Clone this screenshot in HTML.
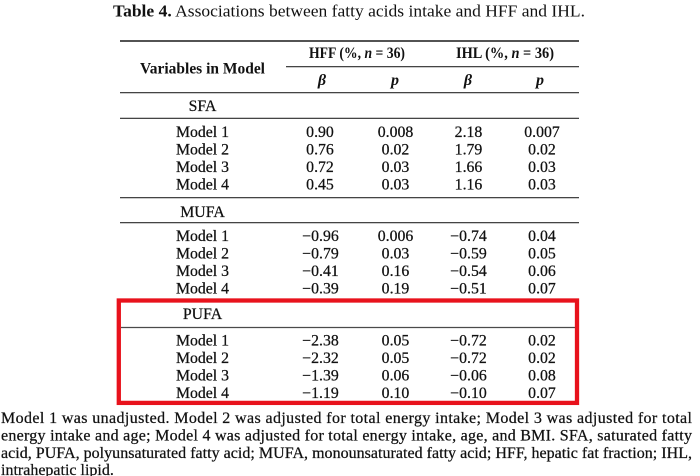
<!DOCTYPE html>
<html>
<head>
<meta charset="utf-8">
<style>
  html, body { margin:0; padding:0; background:#fff; }
  body { width:700px; height:476px; overflow:hidden; }
  svg { display:block; }
  text { font-family: "Liberation Serif", "DejaVu Serif", serif; fill:#111; }
  .th { stroke:#111; stroke-width:0.25px; }
</style>
</head>
<body>
<svg width="700" height="476" viewBox="0 0 700 476" xmlns="http://www.w3.org/2000/svg">
  <!-- Title -->
  <text x="113" y="16.5" font-size="17" textLength="472" lengthAdjust="spacingAndGlyphs"><tspan font-weight="bold">Table 4.</tspan> Associations between fatty acids intake and HFF and IHL.</text>

  <!-- Rules -->
  <g stroke="#2a2a2a" stroke-width="1.2">
    <line x1="120" y1="41" x2="579" y2="41" stroke-width="1.5" stroke="#1a1a1a"/>
    <line x1="286" y1="66.7" x2="579" y2="66.7"/>
    <line x1="120" y1="92.7" x2="579" y2="92.7"/>
    <line x1="120" y1="118.3" x2="579" y2="118.3"/>
    <line x1="120" y1="197.7" x2="579" y2="197.7"/>
    <line x1="120" y1="222.7" x2="579" y2="222.7"/>
    <line x1="120" y1="300" x2="579" y2="300"/>
    <line x1="121" y1="327.5" x2="575" y2="327.5" stroke="#4a4a4a"/>
    <line x1="120" y1="402" x2="579" y2="402"/>
  </g>

  <!-- Header -->
  <g font-weight="bold" font-size="15.5">
    <text x="140" y="73.5" textLength="125" lengthAdjust="spacingAndGlyphs">Variables in Model</text>
    <text x="309" y="58" textLength="96" lengthAdjust="spacingAndGlyphs">HFF (%, <tspan font-style="italic">n</tspan> = 36)</text>
    <text x="456" y="58" textLength="98" lengthAdjust="spacingAndGlyphs">IHL (%, <tspan font-style="italic">n</tspan> = 36)</text>
    <g font-style="italic" text-anchor="middle" font-size="16">
      <text x="322" y="85">β</text>
      <text x="395" y="85">p</text>
      <text x="468" y="85">β</text>
      <text x="540" y="85">p</text>
    </g>
  </g>

  <!-- Body -->
  <g font-size="15.8" text-anchor="middle" class="th">
    <text x="202.5" y="111">SFA</text>
    <text x="202.5" y="137">Model 1</text><text x="320" y="137">0.90</text><text x="395.5" y="137">0.008</text><text x="468.5" y="137">2.18</text><text x="542" y="137">0.007</text>
    <text x="202.5" y="154.5">Model 2</text><text x="320" y="154.5">0.76</text><text x="395.5" y="154.5">0.02</text><text x="468.5" y="154.5">1.79</text><text x="542" y="154.5">0.02</text>
    <text x="202.5" y="172">Model 3</text><text x="320" y="172">0.72</text><text x="395.5" y="172">0.03</text><text x="468.5" y="172">1.66</text><text x="542" y="172">0.03</text>
    <text x="202.5" y="189.5">Model 4</text><text x="320" y="189.5">0.45</text><text x="395.5" y="189.5">0.03</text><text x="468.5" y="189.5">1.16</text><text x="542" y="189.5">0.03</text>

    <text x="202.5" y="217">MUFA</text>
    <text x="202.5" y="241">Model 1</text><text x="320.5" y="241">−0.96</text><text x="395.5" y="241">0.006</text><text x="468.5" y="241">−0.74</text><text x="542" y="241">0.04</text>
    <text x="202.5" y="258.5">Model 2</text><text x="320.5" y="258.5">−0.79</text><text x="395.5" y="258.5">0.03</text><text x="468.5" y="258.5">−0.59</text><text x="542" y="258.5">0.05</text>
    <text x="202.5" y="276">Model 3</text><text x="320.5" y="276">−0.41</text><text x="395.5" y="276">0.16</text><text x="468.5" y="276">−0.54</text><text x="542" y="276">0.06</text>
    <text x="202.5" y="293.5">Model 4</text><text x="320.5" y="293.5">−0.39</text><text x="395.5" y="293.5">0.19</text><text x="468.5" y="293.5">−0.51</text><text x="542" y="293.5">0.07</text>

    <text x="202.5" y="319">PUFA</text>
    <text x="202.5" y="345.5">Model 1</text><text x="320.5" y="345.5">−2.38</text><text x="395.5" y="345.5">0.05</text><text x="468.5" y="345.5">−0.72</text><text x="542" y="345.5">0.02</text>
    <text x="202.5" y="363">Model 2</text><text x="320.5" y="363">−2.32</text><text x="395.5" y="363">0.05</text><text x="468.5" y="363">−0.72</text><text x="542" y="363">0.02</text>
    <text x="202.5" y="380.5">Model 3</text><text x="320.5" y="380.5">−1.39</text><text x="395.5" y="380.5">0.06</text><text x="468.5" y="380.5">−0.06</text><text x="542" y="380.5">0.08</text>
    <text x="202.5" y="398">Model 4</text><text x="320.5" y="398">−1.19</text><text x="395.5" y="398">0.10</text><text x="468.5" y="398">−0.10</text><text x="542" y="398">0.07</text>
  </g>

  <!-- Red highlight box -->
  <rect x="118.8" y="300.5" width="458.2" height="102.4" fill="none" stroke="#e8121c" stroke-width="4.3"/>

  <!-- Footnote -->
  <g font-size="16" class="th">
    <text x="1" y="423" textLength="691" lengthAdjust="spacing">Model 1 was unadjusted.  Model 2 was adjusted for total energy intake; Model 3 was adjusted for total</text>
    <text x="1" y="440.5" textLength="691" lengthAdjust="spacing">energy intake and age; Model 4 was adjusted for total energy intake, age, and BMI. SFA, saturated fatty</text>
    <text x="1" y="458" textLength="691" lengthAdjust="spacing">acid, PUFA, polyunsaturated fatty acid; MUFA, monounsaturated fatty acid; HFF, hepatic fat fraction; IHL,</text>
    <text x="1" y="475">intrahepatic lipid.</text>
  </g>
</svg>
</body>
</html>
